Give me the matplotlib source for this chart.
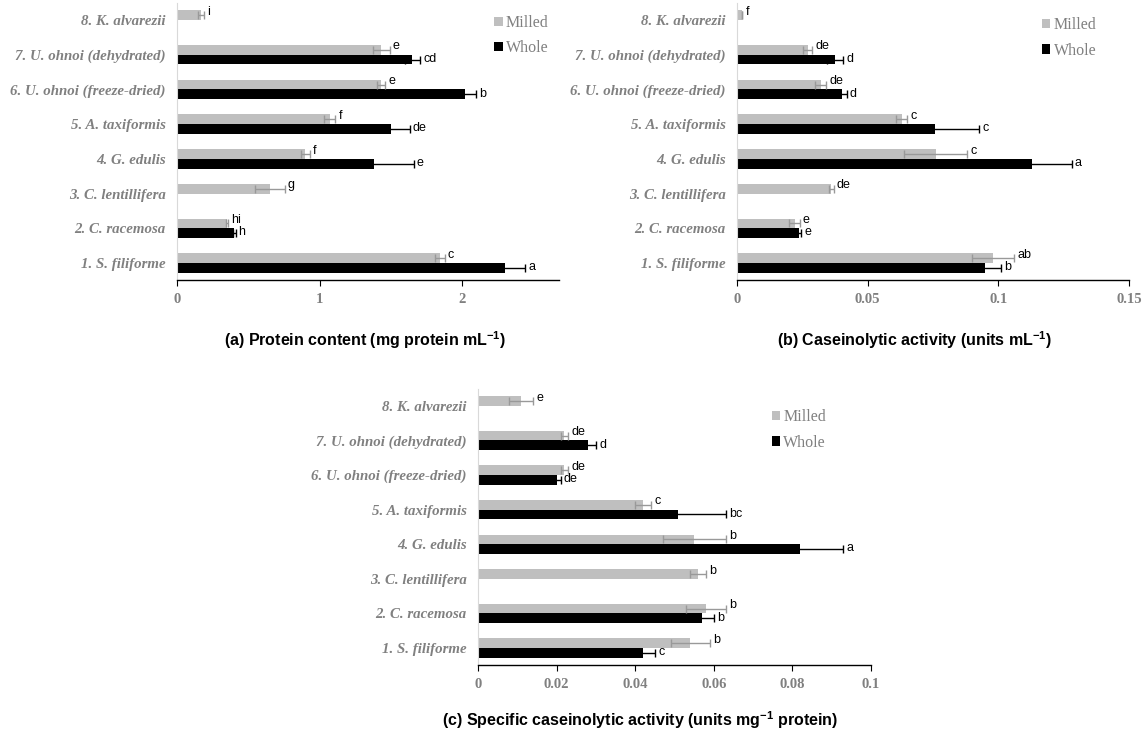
import numpy as np
import matplotlib
matplotlib.use("Agg")
import matplotlib.pyplot as plt
from matplotlib.patches import Patch

plt.rcParams['mathtext.fontset'] = 'custom'
plt.rcParams['mathtext.rm'] = 'Liberation Sans:bold'
plt.rcParams['mathtext.bf'] = 'Liberation Sans:bold'

nan = np.nan
categories = ['1. S. filiforme', '2. C. racemosa', '3. C. lentillifera', '4. G. edulis',
              '5. A. taxiformis', '6. U. ohnoi (freeze-dried)', '7. U. ohnoi (dehydrated)',
              '8. K. alvarezii']

protein_milled = [1.84, 0.35, 0.65, 0.90, 1.07, 1.43, 1.43, 0.17]
protein_milled_err = [0.035, 0.01, 0.105, 0.03, 0.04, 0.03, 0.06, 0.02]
protein_whole = [2.30, 0.40, nan, 1.38, 1.50, 2.02, 1.65, nan]
protein_whole_err = [0.14, 0.01, nan, 0.28, 0.13, 0.075, 0.055, nan]
protein_milled_letters = ['c', 'hi', 'g', 'f', 'f', 'e', 'e', 'i']
protein_whole_letters = ['a', 'h', '', 'e', 'de', 'b', 'cd', '']

casein_milled = [0.098, 0.022, 0.036, 0.076, 0.063, 0.032, 0.027, 0.002]
casein_milled_err = [0.008, 0.002, 0.001, 0.012, 0.002, 0.002, 0.0017, 0.0]
casein_whole = [0.095, 0.0236, nan, 0.113, 0.0757, 0.040, 0.0376, nan]
casein_whole_err = [0.006, 0.001, nan, 0.015, 0.017, 0.002, 0.003, nan]
casein_milled_letters = ['ab', 'e', 'de', 'c', 'c', 'de', 'de', 'f']
casein_whole_letters = ['b', 'e', '', 'a', 'c', 'd', 'd', '']

specific_milled = [0.054, 0.058, 0.056, 0.055, 0.042, 0.022, 0.022, 0.011]
specific_milled_err = [0.005, 0.005, 0.002, 0.008, 0.002, 0.001, 0.001, 0.003]
specific_whole = [0.042, 0.057, nan, 0.082, 0.051, 0.020, 0.028, nan]
specific_whole_err = [0.003, 0.003, nan, 0.011, 0.012, 0.001, 0.002, nan]
specific_milled_letters = ['b', 'b', 'b', 'b', 'c', 'de', 'de', 'e']
specific_whole_letters = ['c', 'b', '', 'a', 'bc', 'de', 'd', '']

MILLED_C = '#BFBFBF'
WHOLE_C = '#000000'
LABEL_C = '#808080'

fig = plt.figure(figsize=(11.45, 7.34), dpi=100)


def panel(rect, milled, merr, whole, werr, mlet, wlet, xmax, ticks, ticklabels,
          leg_x, leg_y):
    ax = fig.add_axes(rect)
    y = np.arange(1, len(categories) + 1)
    h = 0.28
    ym = y + h / 2
    yw = y - h / 2
    ax.barh(ym, milled, height=h, color=MILLED_C, zorder=2)
    ax.barh(yw, whole, height=h, color=WHOLE_C, zorder=2)
    ax.errorbar(milled, ym, xerr=merr, fmt='none', ecolor='#999999', elinewidth=1,
                capsize=3, capthick=1, zorder=3)
    ax.errorbar(whole, yw, xerr=werr, fmt='none', ecolor='#000000', elinewidth=1,
                capsize=3, capthick=1, zorder=3)
    off = xmax * 0.008
    for i in range(len(categories)):
        if mlet[i]:
            ax.text(milled[i] + merr[i] + off, ym[i] + 0.1, mlet[i], fontsize=9,
                    family='Liberation Sans', va='center', ha='left', color='black')
        if wlet[i]:
            ax.text(whole[i] + werr[i] + off, yw[i] + 0.02, wlet[i], fontsize=9,
                    family='Liberation Sans', va='center', ha='left', color='black')
    ax.set_xlim(0, xmax)
    ax.set_ylim(0.5, 8.5)
    ax.set_yticks(y)
    ax.set_yticklabels(categories, family='Liberation Serif', fontweight='bold',
                       style='italic', fontsize=10.75, color=LABEL_C)
    ax.tick_params(axis='y', length=0, pad=8)
    ax.set_xticks(ticks)
    ax.set_xticklabels(ticklabels, family='Liberation Serif', fontweight='bold',
                       fontsize=10.5, color=LABEL_C)
    ax.tick_params(axis='x', direction='out', length=4, width=0.8, color='black', pad=5)
    for s in ['top', 'right']:
        ax.spines[s].set_visible(False)
    ax.spines['left'].set_color('#D9D9D9')
    ax.spines['left'].set_linewidth(0.8)
    ax.spines['bottom'].set_color('black')
    ax.spines['bottom'].set_linewidth(1.0)
    handles = [Patch(facecolor=MILLED_C, edgecolor='none'),
               Patch(facecolor=WHOLE_C, edgecolor='none')]
    leg = ax.legend(handles, ['Milled', 'Whole'], loc='upper left',
                    bbox_to_anchor=(leg_x, leg_y), frameon=False, handlelength=0.52,
                    handleheight=0.52, handletextpad=0.2, labelspacing=0.58,
                    borderpad=0, borderaxespad=0,
                    prop={'family': 'Liberation Serif', 'size': 11.5})
    for t in leg.get_texts():
        t.set_color(LABEL_C)
    return ax


panel([0.1546, 0.618, 0.334, 0.3785], protein_milled, protein_milled_err, protein_whole,
      protein_whole_err, protein_milled_letters, protein_whole_letters, 2.68,
      [0, 1, 2], ['0', '1', '2'], 0.830, 0.955)
panel([0.6437, 0.618, 0.3424, 0.3785], casein_milled, casein_milled_err, casein_whole,
      casein_whole_err, casein_milled_letters, casein_whole_letters, 0.15,
      [0, 0.05, 0.1, 0.15], ['0', '0.05', '0.1', '0.15'], 0.778, 0.947)
panel([0.4175, 0.0936, 0.3432, 0.377], specific_milled, specific_milled_err, specific_whole,
      specific_whole_err, specific_milled_letters, specific_whole_letters, 0.1,
      [0, 0.02, 0.04, 0.06, 0.08, 0.1], ['0', '0.02', '0.04', '0.06', '0.08', '0.1'],
      0.748, 0.925)

tkw = dict(family='Liberation Sans', fontweight='bold', fontsize=11.5, ha='center',
           va='center', color='black')
fig.text(0.319, 0.537, r'(a) Protein content (mg protein mL$^{-1}$)', **tkw)
fig.text(0.799, 0.537, r'(b) Caseinolytic activity (units mL$^{-1}$)', **tkw)
fig.text(0.559, 0.019, r'(c) Specific caseinolytic activity (units mg$^{-1}$ protein)', **tkw)

fig.savefig('out.png', dpi=100, facecolor='white')
